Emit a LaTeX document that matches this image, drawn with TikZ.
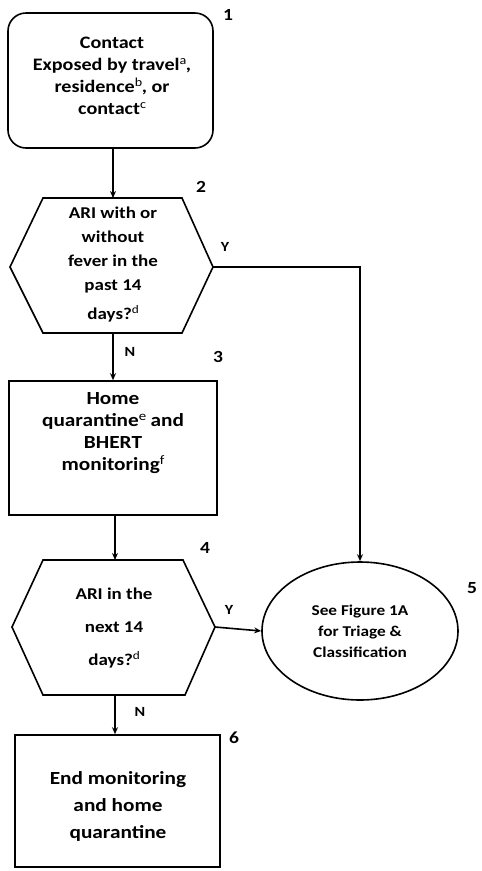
\documentclass[tikz,border=0pt]{standalone}
\usepackage{fontspec}
\setmainfont{Carlito}[FakeStretch=1.15]
\usetikzlibrary{shapes.geometric,arrows.meta}
\tikzset{
  line/.style={line width=1.6pt},
  arr/.style={line, -{Stealth[length=7pt,width=6pt]}},
  boxtext/.style={align=center, font=\bfseries\fontsize{17.5}{22}\selectfont},
  stepnum/.style={font=\bfseries\fontsize{17}{18}\selectfont, anchor=center},
  yn/.style={font=\bfseries\fontsize{14}{16}\selectfont, anchor=center},
}
\begin{document}
\begin{tikzpicture}[x=1pt,y=-1pt]
\useasboundingbox (0,0) rectangle (482,871);

% step 1: rounded box
\node[line, draw, rounded corners=18pt, minimum width=205pt, minimum height=135pt] (b1) at (110.5,80.5) {};
\node[boxtext] (t1) at (112,76) {Contact\\Exposed by travel$^{\rm a}$,\\residence$^{\rm b}$, or\\contact$^{\rm c}$};

% step 2: hexagon decision
\coordinate (h2n) at (113,198);
\coordinate (h2s) at (113,333);
\coordinate (h2e) at (213,267);
\draw[line] (43,198) -- (182,198) -- (h2e) -- (182,333) -- (43,333) -- (10,267) -- cycle;
\node[boxtext, font=\bfseries\fontsize{16.5}{24}\selectfont] (t2) at (113,265) {ARI with or\\without\\fever in the\\past 14\\[5pt]days?$^{\rm d}$};

% step 3: box
\node[line, draw, minimum width=208pt, minimum height=134pt] (b3) at (113,448) {};
\node[boxtext, font=\bfseries\fontsize{18.5}{22}\selectfont] (t3) at (113,433) {Home\\quarantine$^{\rm e}$ and\\BHERT\\monitoring$^{\rm f}$};

% step 4: hexagon decision
\coordinate (h4n) at (115,560);
\coordinate (h4s) at (115,695);
\coordinate (h4e) at (215,627);
\draw[line] (43,560) -- (183,560) -- (h4e) -- (185,695) -- (43,695) -- (12,627) -- cycle;
\node[boxtext, font=\bfseries\fontsize{16.5}{33}\selectfont] (t4) at (114,628) {ARI in the\\next 14\\days?$^{\rm d}$};

% step 5: ellipse
\node[line, draw, ellipse, minimum width=196pt, minimum height=138pt] (e5) at (360,631) {};
\node[boxtext, font=\bfseries\fontsize{15}{21}\selectfont] (t5) at (360,631) {See Figure 1A\\for Triage \&\\Classification};

% step 6: box
\node[line, draw, minimum width=205pt, minimum height=132pt] (b6) at (117.5,801) {};
\node[boxtext, font=\bfseries\fontsize{18.5}{27}\selectfont] (t6) at (118,806) {End monitoring\\and home\\quarantine};

% step numbers
\node[stepnum] (n1) at (228,15) {1};
\node[stepnum] (n2) at (201,187) {2};
\node[stepnum] (n3) at (218,357) {3};
\node[stepnum] (n4) at (205,548) {4};
\node[stepnum] (n5) at (472,588) {5};
\node[stepnum] (n6) at (234,738) {6};

% branch labels
\node[yn] (y2) at (225,247) {Y};
\node[yn] (nn2) at (130,352) {N};
\node[yn] (y4) at (229,610) {Y};
\node[yn] (nn4) at (140,712) {N};

% connectors
\coordinate (c1) at (b1.south -| h2n);
\draw[arr] (c1) -- (h2n);
\coordinate (c2) at (h2s);
\draw[arr] (c2) -- (c2 |- b3.north);
\draw[arr] (b3.south -| h4n) -- (h4n);
\draw[arr] (h4s) -- (h4s |- b6.north);
\draw[arr] (h4e) -- (e5.west);
\draw[arr] (h2e) -- (h2e -| e5.north) -- (e5.north);
\end{tikzpicture}
\end{document}
